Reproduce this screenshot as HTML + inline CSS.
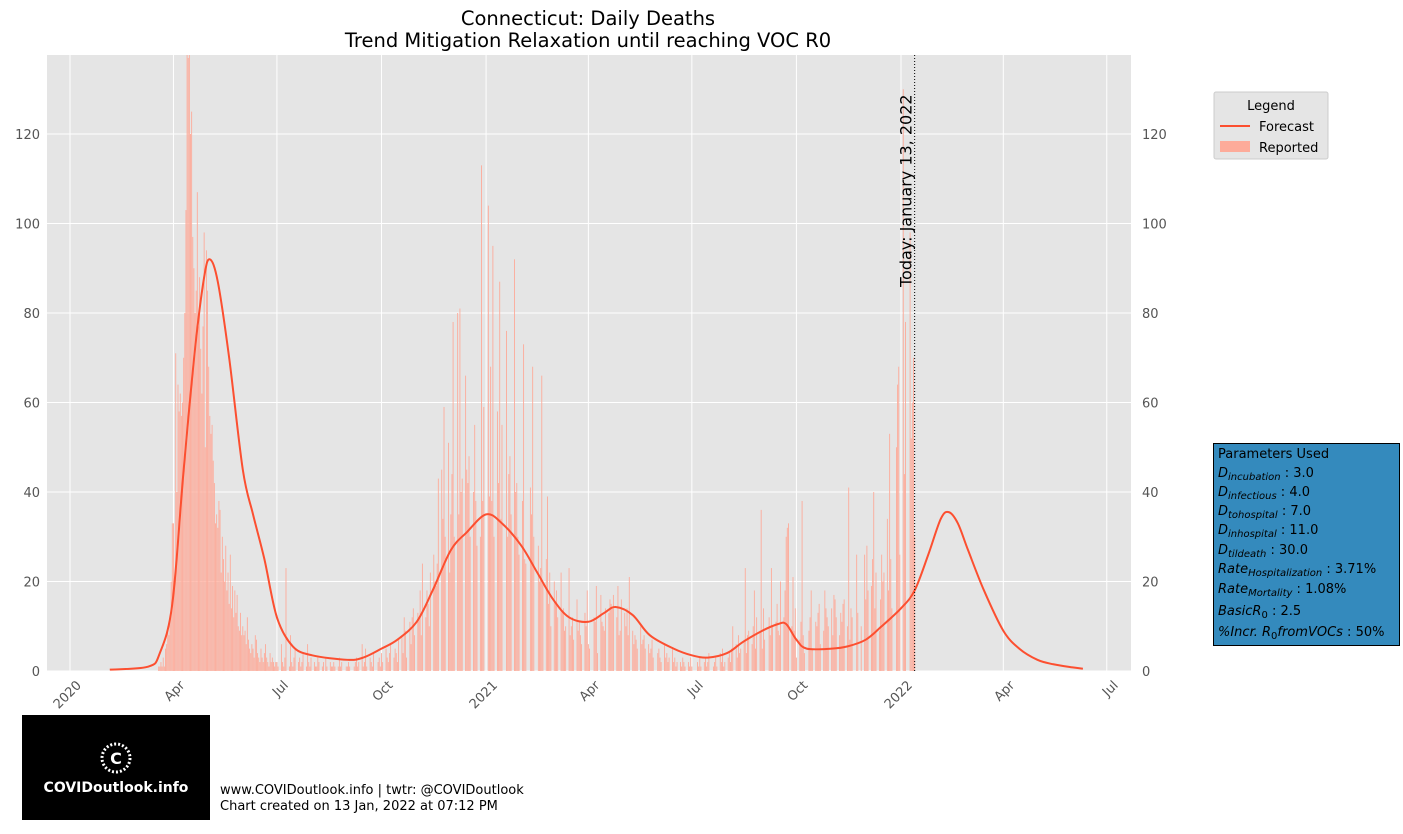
<!DOCTYPE html>
<html><head><meta charset="utf-8">
<style>
body{margin:0;background:#fff;font-family:"DejaVu Sans","Liberation Sans",sans-serif;}
svg text{font-family:"DejaVu Sans","Liberation Sans",sans-serif;}
</style></head>
<body>
<svg id="chart" width="1403" height="830" xmlns="http://www.w3.org/2000/svg">
<rect x="0" y="0" width="1403" height="830" fill="#fff"/>
<text x="588" y="25" text-anchor="middle" font-size="19.5">Connecticut: Daily Deaths</text>
<text x="588" y="47" text-anchor="middle" font-size="19.5">Trend Mitigation Relaxation until reaching VOC R0</text>
<rect x="47" y="55" width="1084" height="616" fill="#e5e5e5"/>
<g id="grid"></g>
<g id="bars"></g>
<path id="forecast" fill="none" stroke="#fc4f30" stroke-width="2"/>
<line id="today" y1="55" y2="671" stroke="#000" stroke-width="1" stroke-dasharray="1,2"/>
<g id="ticks"></g>
<g>
<rect x="1214" y="92" width="114" height="67" fill="#e5e5e5" stroke="#ccc" rx="2"/>
<text x="1271" y="110" text-anchor="middle" font-size="13">Legend</text>
<line x1="1220" y1="126" x2="1250" y2="126" stroke="#fc4f30" stroke-width="2"/>
<text x="1259" y="131" font-size="13">Forecast</text>
<rect x="1220" y="141" width="30" height="11" fill="#fdab9a"/>
<text x="1259" y="152" font-size="13">Reported</text>
</g>
<g font-size="13">
<rect x="1213.5" y="443.5" width="186" height="202" fill="#348abd" stroke="#000"/>
<text x="1218" y="458">Parameters Used</text>
<text x="1218" y="477"><tspan font-style="italic">D</tspan><tspan font-size="10" font-style="italic" dy="3">incubation</tspan><tspan dy="-3"> : 3.0</tspan></text>
<text x="1218" y="496"><tspan font-style="italic">D</tspan><tspan font-size="10" font-style="italic" dy="3">infectious</tspan><tspan dy="-3"> : 4.0</tspan></text>
<text x="1218" y="515"><tspan font-style="italic">D</tspan><tspan font-size="10" font-style="italic" dy="3">tohospital</tspan><tspan dy="-3"> : 7.0</tspan></text>
<text x="1218" y="534"><tspan font-style="italic">D</tspan><tspan font-size="10" font-style="italic" dy="3">inhospital</tspan><tspan dy="-3"> : 11.0</tspan></text>
<text x="1218" y="554"><tspan font-style="italic">D</tspan><tspan font-size="10" font-style="italic" dy="3">tildeath</tspan><tspan dy="-3"> : 30.0</tspan></text>
<text x="1218" y="573"><tspan font-style="italic">Rate</tspan><tspan font-size="10" font-style="italic" dy="3">Hospitalization</tspan><tspan dy="-3"> : 3.71%</tspan></text>
<text x="1218" y="593"><tspan font-style="italic">Rate</tspan><tspan font-size="10" font-style="italic" dy="3">Mortality</tspan><tspan dy="-3"> : 1.08%</tspan></text>
<text x="1218" y="615"><tspan font-style="italic">BasicR</tspan><tspan font-size="10" dy="3">0</tspan><tspan dy="-3"> : 2.5</tspan></text>
<text x="1218" y="636"><tspan font-style="italic">%Incr. R</tspan><tspan font-size="10" dy="3">0</tspan><tspan dy="-3" font-style="italic">fromVOCs</tspan><tspan> : 50%</tspan></text>
</g>
<g>
<rect x="22" y="715" width="188" height="105" fill="#000"/>
<circle cx="116" cy="758" r="14" fill="none" stroke="#fff" stroke-width="3" stroke-dasharray="2,2"/>
<text x="116" y="764" text-anchor="middle" font-size="16" fill="#fff" font-weight="bold">C</text>
<text x="116" y="792" text-anchor="middle" font-size="14" fill="#fff" font-weight="bold">COVIDoutlook.info</text>
</g>
<text x="220" y="794" font-size="13">www.COVIDoutlook.info | twtr: @COVIDoutlook</text>
<text x="220" y="810" font-size="13">Chart created on 13 Jan, 2022 at 07:12 PM</text>
</svg>
<script>
const yTicks=[0,20,40,60,80,100,120];
const xTickDates=["2020-01-01","2020-04-01","2020-07-01","2020-10-01","2021-01-01","2021-04-01","2021-07-01","2021-10-01","2022-01-01","2022-04-01","2022-07-01"];
const xTickLabels=["2020","Apr","Jul","Oct","2021","Apr","Jul","Oct","2022","Apr","Jul"];
const todayDate="2022-01-13";
const reportedStart="2020-03-19";
const reported=[1,1,2,1,3,1,5,6,10,8,12,20,33,
33,20,71,40,64,58,62,57,60,70,80,103,140,137,138,120,125,97,90,80,85,107,77,88,72,62,77,98,50,94,
85,68,57,53,55,47,42,33,35,32,38,36,22,30,25,20,28,18,22,15,26,14,19,12,18,13,17,10,9,13,8,
10,8,9,6,12,7,5,4,6,5,3,8,7,4,3,2,5,3,2,4,6,3,2,1,4,2,3,2,1,2,
2,1,0,0,6,2,1,3,23,0,0,1,8,2,1,3,5,0,0,2,3,1,2,4,0,0,1,6,2,1,3,
0,0,2,1,1,3,2,0,0,1,2,0,3,1,0,0,2,1,1,2,1,0,0,1,3,1,2,0,0,0,1,
1,2,1,0,0,0,1,2,3,1,2,0,0,6,1,2,5,1,0,0,3,2,1,4,0,0,0,2,3,1,
4,2,0,0,5,3,2,4,6,0,0,3,5,4,2,7,0,0,8,4,12,9,3,0,0,11,6,12,14,8,0,
0,13,12,18,8,24,0,0,12,18,15,10,22,0,0,26,20,19,24,43,0,0,45,34,59,30,0,0,51,22,
35,44,78,30,0,0,80,35,81,40,43,0,0,66,45,42,48,30,0,0,40,55,38,28,0,0,30,113,38,59,0,
0,0,104,39,68,38,95,30,0,0,58,42,87,34,55,0,0,0,76,30,44,48,35,0,0,92,40,42,30,26,0,
0,38,73,25,24,0,0,0,41,35,68,30,0,0,0,28,20,23,66,20,0,0,25,39,15,22,10,0,
0,20,15,18,12,0,0,22,13,14,9,10,0,0,23,8,10,12,7,0,0,16,9,11,8,6,0,0,13,10,18,
6,5,0,0,0,12,11,19,4,0,0,17,11,10,9,14,0,0,13,16,15,14,17,0,0,12,19,8,9,16,
0,0,13,10,14,8,21,0,0,9,6,8,7,5,0,0,10,6,7,8,5,0,0,6,4,5,7,3,0,0,0,
4,5,3,2,0,0,6,3,4,2,3,0,0,5,2,3,1,2,0,0,2,1,3,2,1,0,0,2,1,3,
1,0,0,0,0,2,1,3,1,0,0,2,3,1,2,4,0,0,0,1,2,3,1,0,0,4,2,5,1,2,0,
0,3,4,2,5,10,0,0,6,3,8,4,5,0,0,7,23,4,8,9,0,0,6,10,18,5,12,0,0,9,36,
5,14,7,0,0,0,12,8,23,10,0,0,11,15,9,8,20,0,0,12,18,30,32,33,0,0,10,21,9,14,
3,0,0,7,11,38,8,4,0,0,0,9,12,18,5,0,0,11,10,13,15,6,0,0,9,18,14,12,10,0,0,
14,8,17,16,12,0,0,8,13,11,15,16,0,0,10,41,7,14,12,0,0,0,26,13,0,0,10,0,0,26,
16,28,18,0,0,19,25,40,14,22,0,0,9,16,26,20,22,0,0,34,18,53,25,14,0,0,0,50,64,68,26,
0,0,130,44,78,0,0,0,98,52,60,70,30];
const forecastDates=["2020-02-05","2020-03-10","2020-03-20","2020-03-31","2020-04-10","2020-04-20","2020-04-28","2020-05-03","2020-05-10","2020-05-20","2020-06-01","2020-06-10","2020-06-20","2020-07-01","2020-07-15","2020-08-01","2020-09-01","2020-09-15","2020-10-01","2020-10-15","2020-11-01","2020-11-15","2020-12-01","2020-12-15","2021-01-01","2021-01-15","2021-02-01","2021-02-15","2021-03-01","2021-03-15","2021-04-01","2021-04-15","2021-04-25","2021-05-10","2021-05-25","2021-06-15","2021-07-01","2021-07-15","2021-08-01","2021-08-15","2021-09-01","2021-09-15","2021-09-22","2021-10-01","2021-10-10","2021-11-01","2021-11-15","2021-12-01","2021-12-15","2022-01-01","2022-01-13","2022-01-25","2022-02-05","2022-02-12","2022-02-20","2022-03-01","2022-03-15","2022-04-01","2022-04-15","2022-05-01","2022-05-15","2022-06-01","2022-06-10"];
const forecastValues=[0.3,1,4,15,45,72,88,92,87,70,45,35,25,12,5.5,3.5,2.5,3,5,7,11,18,27,31,35,33,28,22,16,12,11,13,14.3,12.5,8,5,3.5,3,4,6.5,9,10.5,10.5,7,5,5,5.5,7,10,14,18,26,34,35.5,33,27,18,9,5,2.5,1.5,0.8,0.5];

const NS="http://www.w3.org/2000/svg";
const X0=70, PXDAY=831/731, Y0=671, PXU=4.475, TOP=55;
const base=Date.UTC(2020,0,1);
function dayOf(s){const p=s.split("-");return (Date.UTC(+p[0],+p[1]-1,+p[2])-base)/86400000;}
function xScale(d){return X0+d*PXDAY;}
function yScale(v){return Y0-v*PXU;}
function mk(tag,attrs,parent){const e=document.createElementNS(NS,tag);for(const k in attrs)e.setAttribute(k,attrs[k]);parent.appendChild(e);return e;}
const grid=document.getElementById("grid"),ticks=document.getElementById("ticks"),bars=document.getElementById("bars");
yTicks.forEach(v=>{
  const y=yScale(v);
  const g=mk("line",{x1:47,x2:1131,y1:y,y2:y,stroke:"#fff","stroke-width":1},grid);
  
  
  const t1=mk("text",{x:40,y:y+5,"text-anchor":"end","font-size":13,fill:"#555"},ticks);t1.textContent=v;
  
  
  const t2=mk("text",{x:1142,y:y+5,"font-size":13,fill:"#555"},ticks);t2.textContent=v;
  
  
});
xTickDates.forEach((s,i)=>{
  const x=xScale(dayOf(s));
  const g=mk("line",{x1:x,x2:x,y1:55,y2:671,stroke:"#fff","stroke-width":1},grid);
  
  
  const ax=x+12, ay=686;
  const t=mk("text",{x:ax,y:ay,"text-anchor":"end","font-size":13,fill:"#555",transform:`rotate(-45 ${ax} ${ay})`},ticks);
  t.textContent=xTickLabels[i];
  
  
});
const sd=dayOf(reportedStart);
reported.forEach((v,i)=>{
  const x=xScale(sd+i);const vv=Math.min(v,(Y0-TOP)/PXU);
  const r=mk("rect",{x:x-0.45,y:yScale(vv),width:0.9,height:vv*PXU,fill:"#fdab9a"},bars);
  
  
});
const pts=forecastDates.map((s,i)=>[xScale(dayOf(s)),yScale(forecastValues[i])]);
let d="M"+pts[0][0]+","+pts[0][1];
for(let i=0;i<pts.length-1;i++){
  const p0=pts[Math.max(i-1,0)],p1=pts[i],p2=pts[i+1],p3=pts[Math.min(i+2,pts.length-1)];
  const c1=[p1[0]+(p2[0]-p0[0])/6,p1[1]+(p2[1]-p0[1])/6],c2=[p2[0]-(p3[0]-p1[0])/6,p2[1]-(p3[1]-p1[1])/6];
  d+=` C${c1[0]},${c1[1]} ${c2[0]},${c2[1]} ${p2[0]},${p2[1]}`;
}
document.getElementById("forecast").setAttribute("d",d);
const tx=xScale(dayOf(todayDate));
const tl=document.getElementById("today");tl.setAttribute("x1",tx);tl.setAttribute("x2",tx);
const tt=mk("text",{x:tx-3,y:287,"font-size":16,transform:`rotate(-90 ${tx-3} 287)`},document.getElementById("chart"));
tt.textContent="Today: January 13, 2022";


</script>
</body></html>
